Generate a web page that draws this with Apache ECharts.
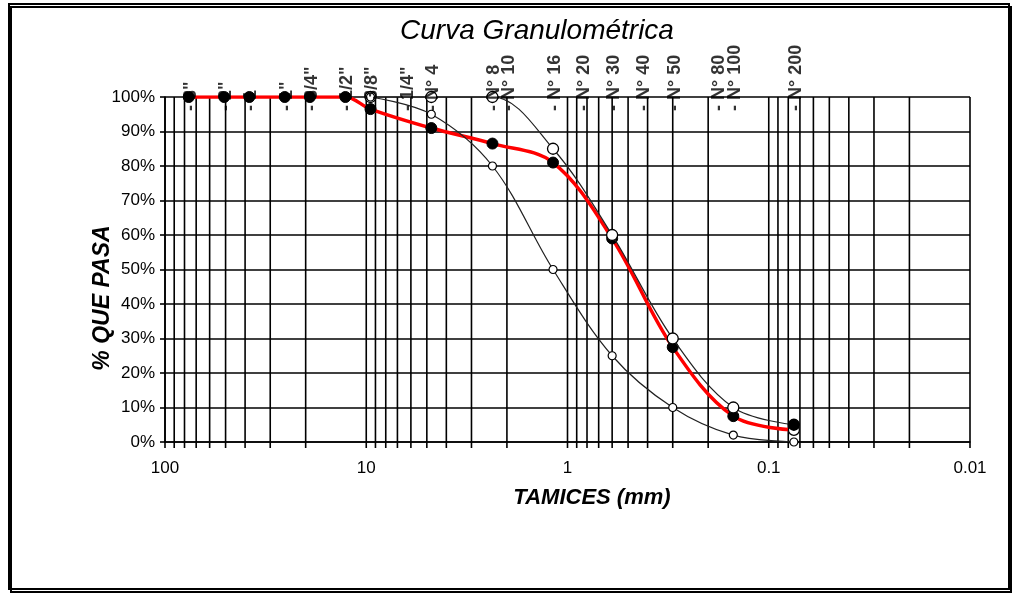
<!DOCTYPE html>
<html>
<head>
<meta charset="utf-8">
<script src="https://cdn.jsdelivr.net/npm/echarts@6/dist/echarts.min.js"></script>
<style>
  html, body { margin: 0; padding: 0; background: #fff; }
  #chart { width: 1017px; height: 594px; }
</style>
</head>
<body>
<div id="chart"></div>
<script>
// sieve openings (mm) and the labels printed above the chart
const sieveLabels = ['- 3"', '- 2"', '- 1', '- 1"', '- 3/4"', '- 1/2"', '- 3/8"', '- 1/4"', '- N° 4',
  '- N° 8', '- N° 10', '- N° 16', '- N° 20', '- N° 30', '- N° 40', '- N° 50', '- N° 80', '- N° 100', '- N° 200'];
const sieveSizes = [76.2, 50.8, 38.1, 25.4, 19.05, 12.7, 9.525, 6.35, 4.75,
  2.36, 2.0, 1.18, 0.85, 0.6, 0.425, 0.3, 0.18, 0.15, 0.075];

// sample curve
const sampleSizes = [76.2, 50.8, 38.1, 25.4, 19.05, 12.7, 9.525, 4.75, 2.36, 1.18, 0.6, 0.3, 0.15, 0.075];
const samplePass  = [100, 100, 100, 100, 100, 100, 96.5, 91, 86.5, 81, 59, 27.5, 7.5, 3.5];

// specification limits
const limitSizes = [9.525, 4.75, 2.36, 1.18, 0.6, 0.3, 0.15, 0.075];
const upperPass  = [100, 100, 100, 85, 60, 30, 10, 5];
const lowerPass  = [100, 95, 80, 50, 25, 10, 2, 0];

// axis ticks
const xTickValues = [100, 10, 1, 0.1, 0.01];
const decadeStarts = [10, 1, 0.1, 0.01];
const yTicks = [0, 10, 20, 30, 40, 50, 60, 70, 80, 90, 100];

// log grid lines: 1..9 per decade + 100
const gridValues = [100];
decadeStarts.forEach(d => {
  for (let k = 9; k >= 1; k--) gridValues.push(+(d * k).toPrecision(3));
});

const chart = echarts.init(document.getElementById('chart'), null, { renderer: 'canvas' });

const sampleData = sampleSizes.map((s, i) => [s, samplePass[i]]);
const upperData  = limitSizes.map((s, i) => [s, upperPass[i]]);
const lowerData  = limitSizes.map((s, i) => [s, lowerPass[i]]);
// last markers as drawn in the original sheet
const lastS = sampleData.length - 1;
sampleData[lastS] = { value: sampleData[lastS], itemStyle: { color: '#fff', borderColor: '#000', borderWidth: 1.3 } };
const lastU = upperData.length - 1;
upperData[lastU] = { value: upperData[lastU], itemStyle: { color: '#000' } };

chart.setOption({
  animation: false,
  backgroundColor: '#fff',
  textStyle: { fontFamily: 'Liberation Sans, Arial, sans-serif' },
  grid: { left: 165, right: 47, top: 97, bottom: 152, containLabel: false },
  xAxis: {
    type: 'log',
    logBase: 10,
    inverse: true,
    min: 0.01,
    max: 100,
    axisLine: { show: true, lineStyle: { color: '#000', width: 1.6 } },
    axisTick: { show: false },
    splitLine: { show: false },
    axisLabel: {
      color: '#000',
      fontSize: 17,
      margin: 18,
      formatter: v => {
        const r = +(+v).toPrecision(3);
        return xTickValues.includes(r) ? String(r) : '';
      }
    }
  },
  yAxis: {
    type: 'value',
    min: 0,
    max: 100,
    interval: 10,
    axisLine: { show: true, lineStyle: { color: '#000', width: 1.6 } },
    axisTick: { show: true, length: 5, lineStyle: { color: '#000', width: 1.6 } },
    splitLine: { show: true, lineStyle: { color: '#000', width: 1.6 } },
    axisLabel: {
      color: '#000',
      fontSize: 17,
      margin: 10,
      formatter: v => yTicks.includes(v) ? v + '%' : ''
    }
  },
  series: [
    {
      type: 'custom',
      name: 'grid',
      silent: true,
      clip: false,
      z: 1,
      data: gridValues.map(v => [v, 0]),
      encode: { x: 0, y: 1 },
      renderItem: (params, api) => {
        const v = api.value(0);
        const top = api.coord([v, 100]);
        const bot = api.coord([v, 0]);
        return {
          type: 'line',
          shape: { x1: top[0], y1: top[1], x2: bot[0], y2: bot[1] + 6 },
          style: { stroke: '#000', lineWidth: 1.6 }
        };
      }
    },
    {
      type: 'line',
      name: 'Muestra',
      data: sampleData,
      smooth: 0.35,
      symbol: 'circle',
      symbolSize: 11,
      z: 3,
      lineStyle: { color: '#ff0000', width: 3.5 },
      itemStyle: { color: '#000', borderColor: '#000', borderWidth: 1 }
    },
    {
      type: 'line',
      name: 'Límite superior',
      data: upperData,
      smooth: 0.35,
      symbol: 'circle',
      symbolSize: 11,
      z: 4,
      lineStyle: { color: '#222', width: 1.2 },
      itemStyle: { color: '#fff', borderColor: '#000', borderWidth: 1.3 }
    },
    {
      type: 'line',
      name: 'Límite inferior',
      data: lowerData,
      smooth: 0.35,
      symbol: 'circle',
      symbolSize: 8,
      z: 4,
      lineStyle: { color: '#222', width: 1.2 },
      itemStyle: { color: '#fff', borderColor: '#000', borderWidth: 1.2 }
    },
    {
      type: 'scatter',
      name: 'tamices',
      silent: true,
      symbolSize: 0,
      z: 5,
      data: sieveSizes.map((s, i) => ({ value: [s, 100], name: sieveLabels[i] })),
      label: {
        show: true,
        formatter: p => p.name,
        position: 'inside',
        rotate: 90,
        align: 'left',
        verticalAlign: 'middle',
        offset: [-14, 2],
        color: '#000',
        fontSize: 18,
        fontWeight: 'bold'
      }
    }
  ],
  graphic: [
    {
      type: 'text',
      x: 537, y: 31,
      style: {
        text: 'Curva Granulométrica',
        font: 'italic 28px "Liberation Sans", Arial, sans-serif',
        fill: '#000',
        align: 'center',
        verticalAlign: 'middle'
      }
    },
    {
      type: 'text',
      x: 592, y: 498,
      style: {
        text: 'TAMICES (mm)',
        font: 'italic bold 22px "Liberation Sans", Arial, sans-serif',
        fill: '#000',
        align: 'center',
        verticalAlign: 'middle'
      }
    },
    {
      type: 'text',
      x: 103, y: 298,
      rotation: Math.PI / 2,
      style: {
        text: '% QUE PASA',
        font: 'italic bold 23px "Liberation Sans", Arial, sans-serif',
        fill: '#000',
        align: 'center',
        verticalAlign: 'middle'
      }
    },
    {
      type: 'rect',
      shape: { x: 9, y: 4, width: 1000, height: 585 },
      style: {
        fill: 'transparent',
        stroke: '#000',
        lineWidth: 2,
        shadowColor: '#000',
        shadowOffsetX: 2,
        shadowOffsetY: 3,
        shadowBlur: 0
      },
      silent: true
    }
  ]
});
</script>
</body>
</html>
